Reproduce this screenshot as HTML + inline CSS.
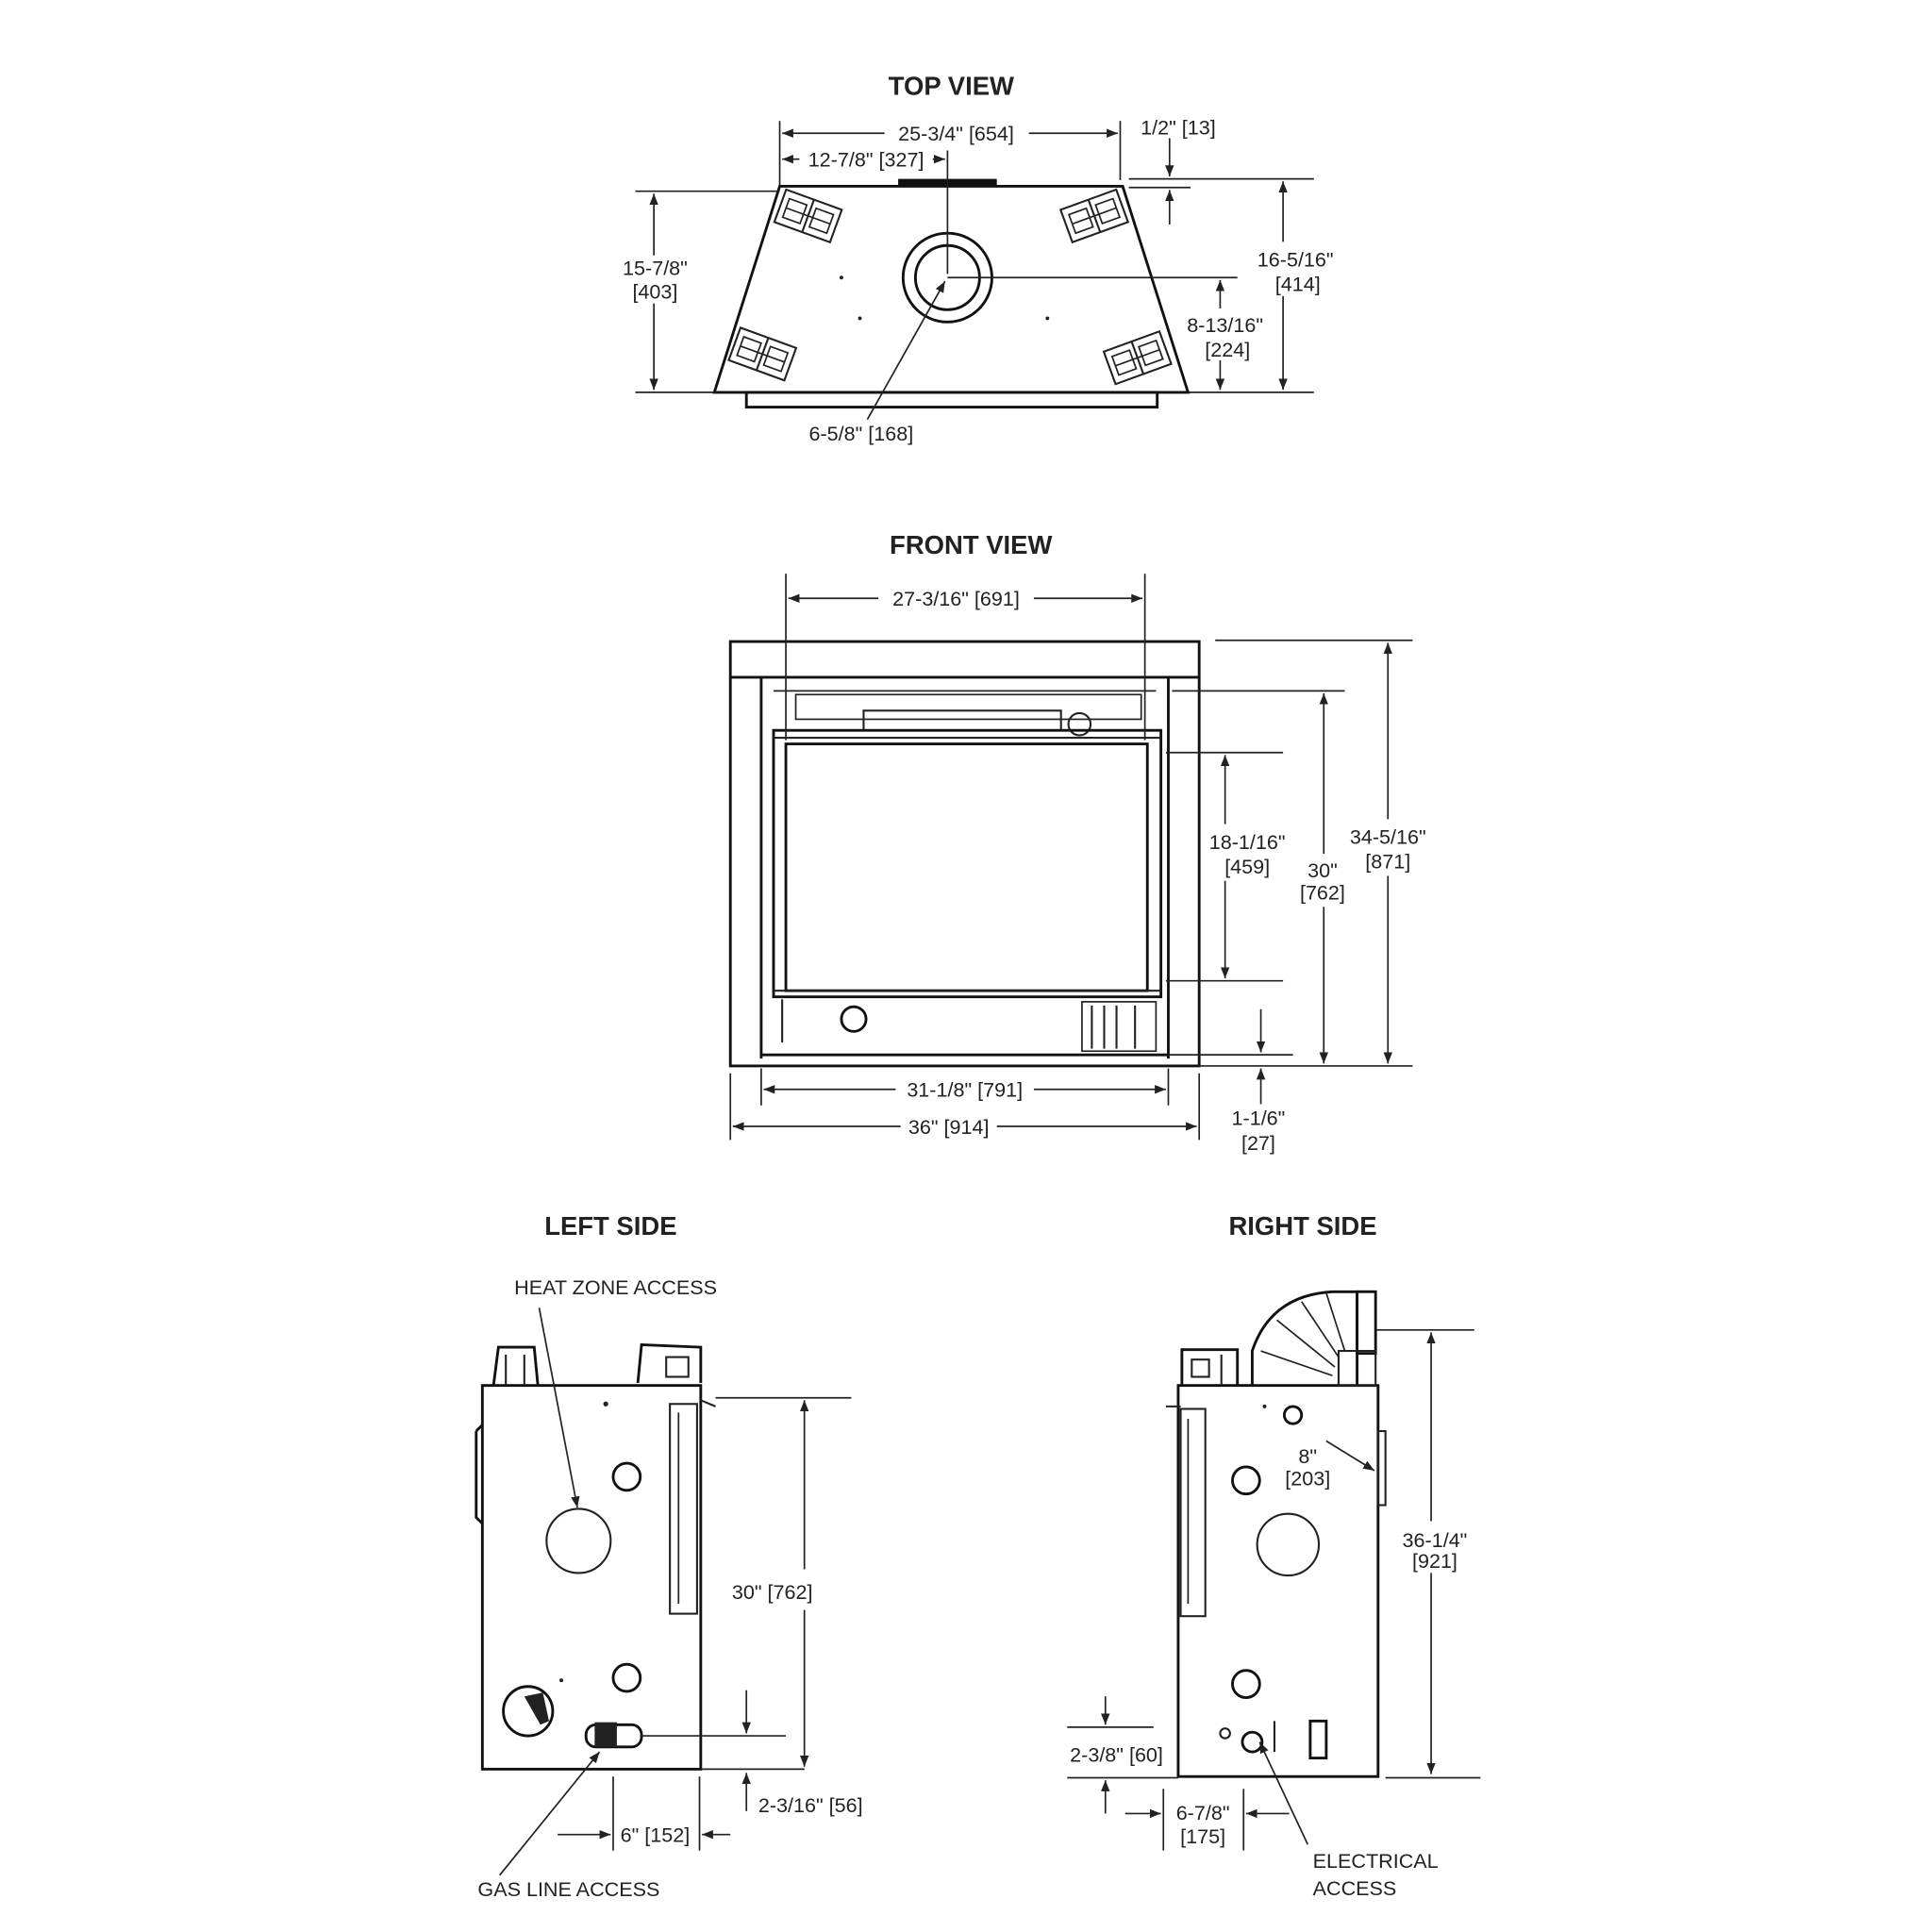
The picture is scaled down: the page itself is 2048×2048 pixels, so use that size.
<!DOCTYPE html>
<html><head><meta charset="utf-8"><style>
html,body{margin:0;padding:0;background:#fff;}
svg{display:block;}
text{font-family:"Liberation Sans",sans-serif;font-size:16.5px;fill:#222;text-anchor:middle;}
.t{font-size:21px;font-weight:bold;}
.l{fill:none;stroke:#222;stroke-width:1.3;}
.b{fill:none;stroke:#111;stroke-width:2.2;}
.m{fill:none;stroke:#222;stroke-width:1.6;}
</style></head><body>
<svg width="2048" height="2048" viewBox="0 0 1566 1566" xmlns="http://www.w3.org/2000/svg">
<defs>
<marker id="a" viewBox="0 0 10 10" refX="10" refY="5" markerWidth="9" markerHeight="9" orient="auto-start-reverse" markerUnits="userSpaceOnUse"><path d="M0,1 L10,5 L0,9 z" fill="#222"/></marker>
<g id="vent"><rect x="-24" y="-14" width="48" height="28" class="m" fill="#fff"/><line x1="0" y1="-14" x2="0" y2="14" class="m"/><rect x="-19" y="-8" width="15" height="16" class="l"/><rect x="4" y="-8" width="15" height="16" class="l"/><line x1="-19" y1="0" x2="19" y2="0" class="l"/></g>
</defs>

<!-- TOP VIEW -->
<text x="771" y="77" class="t">TOP VIEW</text>
<polygon points="632,151 910,151 963,318 579,318" class="b" fill="#fff"/>
<rect x="605" y="318" width="333" height="12" class="b"/>
<rect x="728" y="145" width="80" height="5" fill="#111"/>
<use href="#vent" transform="translate(655,175) rotate(20)"/>
<use href="#vent" transform="translate(887,175) rotate(-20)"/>
<use href="#vent" transform="translate(618,287) rotate(20)"/>
<use href="#vent" transform="translate(922,290) rotate(-20)"/>
<circle cx="768" cy="225" r="36" class="b" stroke-width="3"/>
<circle cx="768" cy="225" r="26" class="b" stroke-width="2.6"/>
<circle cx="682" cy="225" r="1.5" fill="#222"/><circle cx="697" cy="258" r="1.5" fill="#222"/><circle cx="849" cy="258" r="1.5" fill="#222"/>
<line x1="632" y1="98" x2="632" y2="150" class="l"/><line x1="908" y1="98" x2="908" y2="146" class="l"/>
<line x1="634" y1="108" x2="717" y2="108" class="l" marker-start="url(#a)"/><line x1="834" y1="108" x2="906" y2="108" class="l" marker-end="url(#a)"/>
<text x="775" y="114">25-3/4" [654]</text>
<line x1="634" y1="129" x2="648" y2="129" class="l" marker-start="url(#a)"/><line x1="756" y1="129" x2="766" y2="129" class="l" marker-end="url(#a)"/>
<text x="702" y="135">12-7/8" [327]</text>
<line x1="768" y1="122" x2="768" y2="222" class="l"/>
<line x1="515" y1="155" x2="632" y2="155" class="l"/><line x1="515" y1="318" x2="580" y2="318" class="l"/>
<line x1="530" y1="157" x2="530" y2="207" class="l" marker-start="url(#a)"/><line x1="530" y1="246" x2="530" y2="316" class="l" marker-end="url(#a)"/>
<text x="531" y="223">15-7/8"</text><text x="531" y="242">[403]</text>
<line x1="915" y1="145" x2="1065" y2="145" class="l"/><line x1="915" y1="152" x2="965" y2="152" class="l"/>
<line x1="963" y1="318" x2="1065" y2="318" class="l"/>
<line x1="1040" y1="147" x2="1040" y2="196" class="l" marker-start="url(#a)"/><line x1="1040" y1="240" x2="1040" y2="316" class="l" marker-end="url(#a)"/>
<text x="1050" y="216">16-5/16"</text><text x="1052" y="236">[414]</text>
<line x1="768" y1="225" x2="1003" y2="225" class="l"/>
<line x1="989" y1="227" x2="989" y2="250" class="l" marker-start="url(#a)"/><line x1="989" y1="292" x2="989" y2="316" class="l" marker-end="url(#a)"/>
<text x="993" y="269">8-13/16"</text><text x="995" y="289">[224]</text>
<text x="955" y="109">1/2" [13]</text>
<line x1="948" y1="112" x2="948" y2="143" class="l" marker-end="url(#a)"/><line x1="948" y1="182" x2="948" y2="154" class="l" marker-end="url(#a)"/>
<line x1="703" y1="340" x2="766" y2="228" class="l" marker-end="url(#a)"/>
<text x="698" y="357">6-5/8" [168]</text>

<!-- FRONT VIEW -->
<text x="787" y="449" class="t">FRONT VIEW</text>
<rect x="592" y="520" width="380" height="344" class="b"/>
<line x1="592" y1="549" x2="972" y2="549" class="b"/>
<line x1="617" y1="549" x2="617" y2="858" class="b"/><line x1="947" y1="549" x2="947" y2="858" class="b"/>
<line x1="617" y1="855" x2="947" y2="855" class="b"/>
<line x1="627" y1="560" x2="937" y2="560" class="l"/>
<rect x="645" y="563" width="280" height="20" class="l"/>
<rect x="700" y="576" width="160" height="16" class="m"/>
<circle cx="875" cy="587" r="9" class="m"/>
<rect x="627" y="592" width="314" height="216" class="b"/>
<rect x="637" y="603" width="293" height="200" class="b"/>
<line x1="627" y1="598" x2="941" y2="598" class="m"/>
<line x1="627" y1="803" x2="941" y2="803" class="m"/>
<circle cx="692" cy="826" r="10" class="b"/>
<line x1="634" y1="810" x2="634" y2="845" class="m"/>
<rect x="877" y="812" width="60" height="40" class="l"/>
<line x1="885" y1="815" x2="885" y2="850" class="m"/><line x1="895" y1="815" x2="895" y2="850" class="m"/><line x1="905" y1="815" x2="905" y2="850" class="m"/><line x1="920" y1="815" x2="920" y2="850" class="m"/>
<line x1="637" y1="465" x2="637" y2="600" class="l"/><line x1="928" y1="465" x2="928" y2="600" class="l"/>
<line x1="639" y1="485" x2="712" y2="485" class="l" marker-start="url(#a)"/><line x1="838" y1="485" x2="926" y2="485" class="l" marker-end="url(#a)"/>
<text x="775" y="491">27-3/16" [691]</text>
<line x1="985" y1="519" x2="1145" y2="519" class="l"/><line x1="972" y1="864" x2="1145" y2="864" class="l"/>
<line x1="1125" y1="521" x2="1125" y2="664" class="l" marker-start="url(#a)"/><line x1="1125" y1="710" x2="1125" y2="862" class="l" marker-end="url(#a)"/>
<text x="1125" y="684">34-5/16"</text><text x="1125" y="704">[871]</text>
<line x1="950" y1="560" x2="1090" y2="560" class="l"/>
<line x1="1073" y1="562" x2="1073" y2="692" class="l" marker-start="url(#a)"/><line x1="1073" y1="735" x2="1073" y2="862" class="l" marker-end="url(#a)"/>
<text x="1072" y="711">30"</text><text x="1072" y="729">[762]</text>
<line x1="945" y1="610" x2="1040" y2="610" class="l"/><line x1="945" y1="795" x2="1040" y2="795" class="l"/>
<line x1="993" y1="612" x2="993" y2="668" class="l" marker-start="url(#a)"/><line x1="993" y1="714" x2="993" y2="793" class="l" marker-end="url(#a)"/>
<text x="1011" y="688">18-1/16"</text><text x="1011" y="708">[459]</text>
<line x1="947" y1="855" x2="1048" y2="855" class="l"/>
<line x1="1022" y1="818" x2="1022" y2="853" class="l" marker-end="url(#a)"/>
<line x1="1022" y1="895" x2="1022" y2="866" class="l" marker-end="url(#a)"/>
<text x="1020" y="912">1-1/6"</text><text x="1020" y="932">[27]</text>
<line x1="592" y1="870" x2="592" y2="924" class="l"/><line x1="972" y1="870" x2="972" y2="924" class="l"/>
<line x1="617" y1="866" x2="617" y2="896" class="l"/><line x1="947" y1="866" x2="947" y2="896" class="l"/>
<line x1="619" y1="883" x2="726" y2="883" class="l" marker-start="url(#a)"/><line x1="838" y1="883" x2="945" y2="883" class="l" marker-end="url(#a)"/>
<text x="782" y="889">31-1/8" [791]</text>
<line x1="594" y1="913" x2="730" y2="913" class="l" marker-start="url(#a)"/><line x1="808" y1="913" x2="970" y2="913" class="l" marker-end="url(#a)"/>
<text x="769" y="919">36" [914]</text>

<!-- LEFT SIDE -->
<text x="495" y="1001" class="t">LEFT SIDE</text>
<text x="499" y="1049">HEAT ZONE ACCESS</text>
<rect x="391" y="1123" width="177" height="311" class="b"/>
<path d="M400,1123 L404,1092 L433,1092 L436,1123" class="b"/>
<line x1="410" y1="1098" x2="410" y2="1122" class="m"/><line x1="425" y1="1098" x2="425" y2="1122" class="m"/>
<path d="M517,1121 L520,1090 L568,1092 L568,1121" class="b"/>
<rect x="540" y="1100" width="18" height="16" class="m"/>
<path d="M386,1160 L391,1155 M386,1160 L386,1230 L391,1235" class="b"/>
<rect x="543" y="1138" width="22" height="170" class="m"/>
<line x1="550" y1="1145" x2="550" y2="1300" class="l"/>
<line x1="568" y1="1135" x2="580" y2="1140" class="m"/>
<circle cx="508" cy="1197" r="11" class="b"/>
<circle cx="469" cy="1249" r="26" class="m"/>
<circle cx="508" cy="1360" r="11" class="b"/>
<circle cx="428" cy="1387" r="20" class="b"/>
<path d="M425,1375 L440,1372 L445,1395 L438,1398 Z" fill="#222"/>
<rect x="475" y="1398" width="45" height="18" rx="8" class="b"/>
<rect x="482" y="1396" width="18" height="20" fill="#222"/>
<circle cx="491" cy="1138" r="2" fill="#222"/><circle cx="455" cy="1362" r="1.5" fill="#222"/>
<line x1="437" y1="1060" x2="468" y2="1222" class="l" marker-end="url(#a)"/>
<line x1="580" y1="1133" x2="690" y2="1133" class="l"/>
<line x1="652" y1="1135" x2="652" y2="1272" class="l" marker-start="url(#a)"/><line x1="652" y1="1305" x2="652" y2="1432" class="l" marker-end="url(#a)"/>
<text x="626" y="1296">30" [762]</text>
<line x1="520" y1="1407" x2="637" y2="1407" class="l"/>
<line x1="605" y1="1370" x2="605" y2="1405" class="l" marker-end="url(#a)"/>
<line x1="568" y1="1434" x2="652" y2="1434" class="l"/>
<line x1="605" y1="1468" x2="605" y2="1437" class="l" marker-end="url(#a)"/>
<text x="657" y="1469">2-3/16" [56]</text>
<line x1="497" y1="1440" x2="497" y2="1500" class="l"/><line x1="567" y1="1440" x2="567" y2="1500" class="l"/>
<line x1="452" y1="1487" x2="495" y2="1487" class="l" marker-end="url(#a)"/>
<line x1="592" y1="1487" x2="569" y2="1487" class="l" marker-end="url(#a)"/>
<text x="531" y="1493">6" [152]</text>
<line x1="405" y1="1520" x2="486" y2="1420" class="l" marker-end="url(#a)"/>
<text x="461" y="1537">GAS LINE ACCESS</text>

<!-- RIGHT SIDE -->
<text x="1056" y="1001" class="t">RIGHT SIDE</text>
<rect x="955" y="1123" width="162" height="317" class="b"/>
<path d="M958,1123 L958,1094 L1003,1094 L1003,1123" class="b"/>
<rect x="966" y="1102" width="14" height="14" class="m"/>
<line x1="990" y1="1098" x2="990" y2="1122" class="m"/>
<path d="M1015,1123 L1015,1095 Q1030,1050 1080,1047 L1100,1047 L1100,1123" class="b" fill="#fff"/>
<path d="M1022,1095 L1080,1115 M1035,1070 L1082,1108 M1055,1055 L1085,1100 M1075,1048 L1090,1095" class="l"/>
<rect x="1100" y="1047" width="15" height="50" class="b"/>
<rect x="1085" y="1095" width="30" height="28" class="m"/>
<line x1="945" y1="1140" x2="957" y2="1140" class="m"/>
<rect x="957" y="1142" width="20" height="168" class="m"/>
<line x1="963" y1="1150" x2="963" y2="1300" class="l"/>
<rect x="1117" y="1160" width="6" height="60" class="m"/>
<circle cx="1048" cy="1147" r="7" class="b"/><circle cx="1025" cy="1140" r="1.5" fill="#222"/>
<circle cx="1010" cy="1200" r="11" class="b"/>
<circle cx="1044" cy="1252" r="25" class="m"/>
<circle cx="1010" cy="1365" r="11" class="b"/>
<circle cx="993" cy="1405" r="4" class="m"/>
<circle cx="1015" cy="1412" r="8" class="b"/>
<line x1="1033" y1="1395" x2="1033" y2="1420" class="m"/>
<rect x="1062" y="1395" width="13" height="30" class="b"/>
<line x1="1115" y1="1078" x2="1195" y2="1078" class="l"/>
<line x1="1123" y1="1441" x2="1200" y2="1441" class="l"/>
<line x1="1160" y1="1080" x2="1160" y2="1233" class="l" marker-start="url(#a)"/><line x1="1160" y1="1275" x2="1160" y2="1438" class="l" marker-end="url(#a)"/>
<text x="1163" y="1254">36-1/4"</text><text x="1163" y="1271">[921]</text>
<text x="1060" y="1186">8"</text><text x="1060" y="1204">[203]</text>
<line x1="1075" y1="1168" x2="1114" y2="1192" class="l" marker-end="url(#a)"/>
<line x1="865" y1="1400" x2="935" y2="1400" class="l"/>
<line x1="865" y1="1441" x2="955" y2="1441" class="l"/>
<line x1="896" y1="1375" x2="896" y2="1398" class="l" marker-end="url(#a)"/>
<line x1="896" y1="1470" x2="896" y2="1443" class="l" marker-end="url(#a)"/>
<text x="905" y="1428">2-3/8" [60]</text>
<line x1="943" y1="1450" x2="943" y2="1500" class="l"/><line x1="1008" y1="1450" x2="1008" y2="1500" class="l"/>
<line x1="912" y1="1470" x2="941" y2="1470" class="l" marker-end="url(#a)"/>
<line x1="1045" y1="1470" x2="1010" y2="1470" class="l" marker-end="url(#a)"/>
<text x="975" y="1475">6-7/8"</text><text x="975" y="1494">[175]</text>
<line x1="1060" y1="1495" x2="1021" y2="1412" class="l" marker-end="url(#a)"/>
<text x="1115" y="1514">ELECTRICAL</text><text x="1098" y="1536">ACCESS</text>
</svg>
</body></html>
